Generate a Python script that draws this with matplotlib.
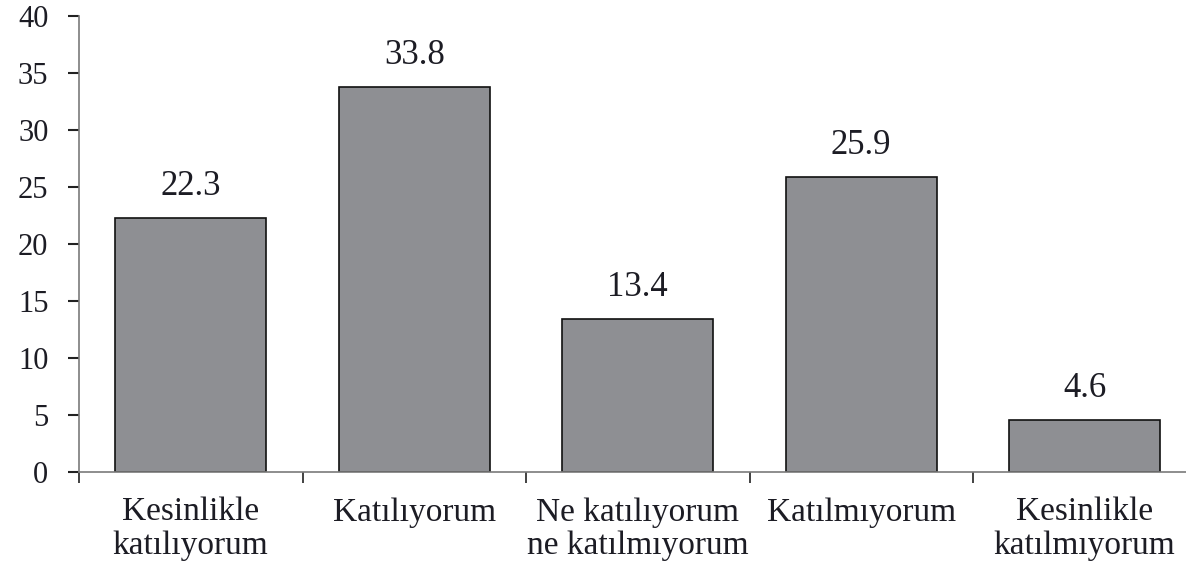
import numpy as np
import matplotlib.pyplot as plt
from matplotlib.ticker import FixedLocator, MultipleLocator

categories = ["Kesinlikle\nkatılıyorum", "Katılıyorum", "Ne katılıyorum\nne katılmıyorum",
              "Katılmıyorum", "Kesinlikle\nkatılmıyorum"]
values = [22.3, 33.8, 13.4, 25.9, 4.6]

BAR_GREY = "#8e8f93"
TEXT = "#1c1c24"
SPINE = "#7a7a7a"


def plot():
    plt.rcParams["font.family"] = ["Liberation Serif", "DejaVu Serif"]
    plt.rcParams["font.size"] = 22

    fig = plt.figure(figsize=(11.86, 5.67), dpi=100)
    ax = fig.add_axes([79 / 1186, 95 / 567, 1117.5 / 1186, 456 / 567])

    x = np.arange(len(values)) + 0.5
    ax.bar(x, values, width=0.675, color=BAR_GREY, edgecolor="#111111", linewidth=1.2)

    for xi, v in zip(x, values):
        ax.text(xi, v + 1.3, f"{v:.1f}", ha="center", va="bottom", color=TEXT, fontsize=25)

    ax.set_xlim(0, 5)
    ax.set_ylim(0, 40)
    ax.yaxis.set_major_locator(MultipleLocator(5))

    # boundaries between categories get the tick marks, centres get the labels
    ax.xaxis.set_major_locator(FixedLocator(np.arange(0, 6)))
    ax.set_xticklabels([])
    ax.xaxis.set_minor_locator(FixedLocator(x))
    ax.set_xticklabels(categories, minor=True, linespacing=1.12, va="top", color=TEXT,
                       fontsize=24)
    ax.tick_params(axis="x", which="minor", length=0, pad=18)
    ax.tick_params(axis="x", which="major", length=8, width=1.3, color="#333333", direction="out")
    ax.tick_params(axis="y", length=8, width=1.5, color="#222222", pad=14, labelcolor=TEXT,
                   labelsize=22)

    for side in ("top", "right"):
        ax.spines[side].set_visible(False)
    for side in ("left", "bottom"):
        ax.spines[side].set_color(SPINE)
        ax.spines[side].set_linewidth(1.2)

    fig.savefig("out.png", dpi=100)
    plt.close()


if __name__ == "__main__":
    plot()
